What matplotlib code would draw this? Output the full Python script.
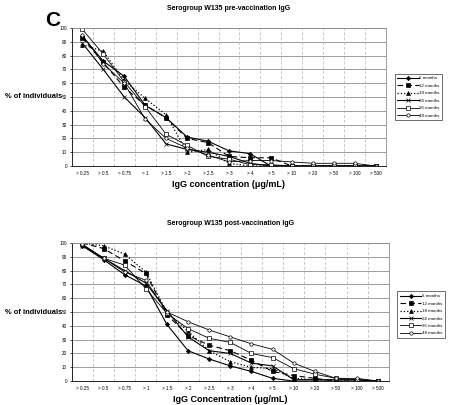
import matplotlib.pyplot as plt

plt.rcParams["font.family"] = ["Liberation Sans", "DejaVu Sans"]

cats = ["> 0.25", "> 0.5", "> 0.75", "> 1", "> 1.5", "> 2", "> 2.5", "> 3",
        "> 4", "> 5", "> 10", "> 20", "> 50", "> 100", "> 500"]
groups = ["6 months", "12 months", "18 months", "24 months", "36 months", "48 months"]

# pre-vaccination, % of individuals above each concentration
pre_6 = [94, 76, 65, 44, 35, 21, 18, 11, 9, 0, 0, 0, 0, 0, 0]
pre_12 = [93, 75, 57, 44, 35, 20, 17, 7, 6, 6, 0, 0, 0, 0, 0]
pre_18 = [88, 83, 62, 49, 37, 10, 12, 2, 0, 0, 0, 0, 0, 0, 0]
pre_24 = [89, 70, 50, 35, 16, 12, 10, 7, 2, 0, 0, 0, 0, 0, 0]
pre_36 = [99, 81, 61, 43, 23, 15, 7, 5, 1, 1, 0, 0, 0, 0, 0]
pre_48 = [95, 74, 60, 34, 20, 13, 8, 3, 4, 4, 3, 2, 2, 2, 0]

# post-vaccination
post_6 = [98, 88, 77, 69, 41, 22, 16, 11, 7, 2, 0, 0, 0, 0, 0]
post_12 = [100, 96, 87, 78, 48, 33, 26, 22, 15, 7, 4, 2, 0, 0, 0]
post_18 = [100, 98, 92, 79, 50, 36, 22, 14, 10, 9, 2, 1, 1, 1, 0]
post_24 = [98, 89, 80, 71, 51, 32, 22, 20, 13, 11, 1, 1, 1, 1, 0]
post_36 = [99, 89, 84, 67, 49, 38, 31, 28, 20, 17, 9, 5, 2, 1, 0]
post_48 = [99, 89, 79, 73, 50, 43, 37, 32, 27, 23, 13, 7, 2, 2, 0]

styles = [
    dict(ls="-", marker="D", mfc="black", ms=2.2, lw=0.8),
    dict(ls=(0, (5, 3)), marker="s", mfc="black", ms=2.6, lw=0.8),
    dict(ls=":", marker="^", mfc="black", ms=2.8, lw=0.9),
    dict(ls="-", marker="x", mfc="black", ms=3.0, lw=0.8),
    dict(ls="-", marker="s", mfc="white", ms=2.6, lw=0.6),
    dict(ls="-", marker="o", mfc="white", ms=2.4, lw=0.6),
]


def draw(ax, series, title, xlabel, leg_y):
    x = range(len(cats))
    for vals, name, st in zip(series, groups, styles):
        ax.plot(x, vals, color="black", mec="black", mew=0.5, label=name, **st)
    ax.set_xlim(-0.5, len(cats) - 0.5)
    ax.set_ylim(0, 100)
    ax.set_yticks(range(0, 101, 10))
    ax.set_xticks(list(x))
    ax.set_xticklabels(cats, fontsize=3.3)
    ax.tick_params(axis="y", labelsize=3.3, length=1.5, width=0.5, pad=2)
    ax.tick_params(axis="x", length=0, pad=3.5)
    for y in range(10, 101, 10):
        ax.axhline(y, color="#8c8c8c", lw=0.6, zorder=0)
    for b in range(len(cats) - 1):
        ax.axvline(b + 0.5, color="#b0b0b0", lw=0.5, ls=(0, (4, 3)), zorder=0)
    for s in ["top", "right"]:
        ax.spines[s].set_color("#8c8c8c")
        ax.spines[s].set_linewidth(0.6)
    for s in ["left", "bottom"]:
        ax.spines[s].set_linewidth(0.6)
    ax.set_title(title, fontsize=5, fontweight="bold", pad=13)
    ax.set_xlabel(xlabel, fontsize=6.5, fontweight="bold", labelpad=3)
    # y label sits horizontally to the left of the axes
    ax.text(-0.03, 0.5, "% of individuals", transform=ax.transAxes,
            fontsize=5.4, fontweight="bold", ha="right", va="center")
    leg = ax.legend(loc="center left", bbox_to_anchor=(1.02, leg_y), fontsize=3.2,
                    frameon=True, fancybox=False, edgecolor="black",
                    handlelength=4.8, borderpad=0.6, labelspacing=0.75,
                    handletextpad=0.1)
    leg.get_frame().set_linewidth(0.5)


fig = plt.figure(figsize=(4.49, 4.05), dpi=100)
ax1 = fig.add_axes([0.160, 0.590, 0.700, 0.341])
ax2 = fig.add_axes([0.160, 0.059, 0.706, 0.341])

draw(ax1, [pre_6, pre_12, pre_18, pre_24, pre_36, pre_48],
     "Serogroup W135 pre-vaccination IgG", "IgG concentration (\u03bcg/mL)", 0.5)
draw(ax2, [post_6, post_12, post_18, post_24, post_36, post_48],
     "Serogroup W135 post-vaccination IgG", "IgG Concentration (\u03bcg/mL)", 0.48)

fig.text(0.118, 0.950, "C", fontsize=15, fontweight="bold", ha="center", va="center")

fig.savefig("out.png", dpi=100)
